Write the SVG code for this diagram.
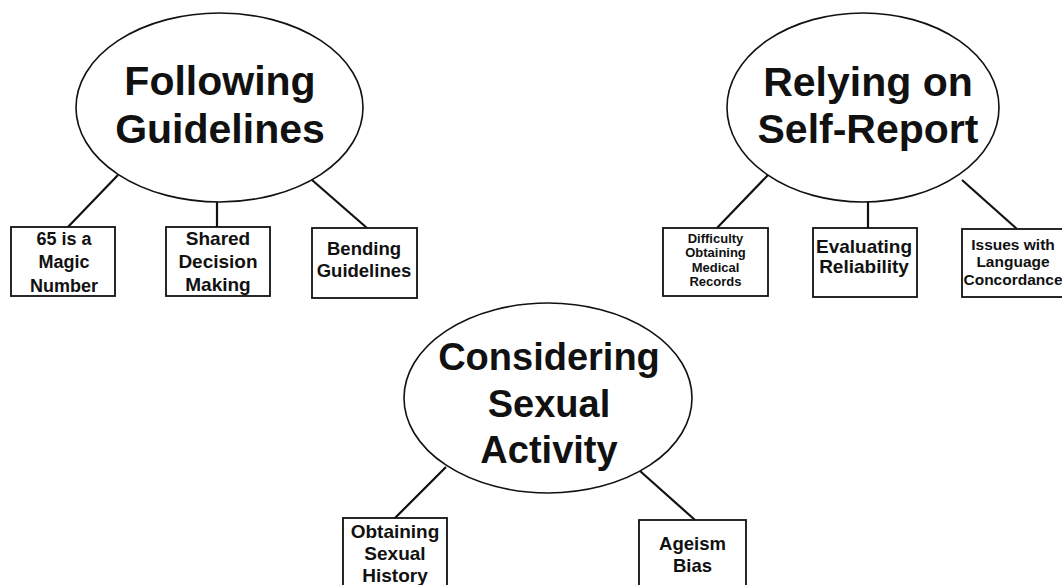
<svg xmlns="http://www.w3.org/2000/svg" width="1062" height="585" viewBox="0 0 1062 585">
<style>
.ell{fill:#fff;stroke:#111;stroke-width:1.6}
.box{fill:#fff;stroke:#111;stroke-width:1.8}
.con line{stroke:#111;stroke-width:2.2}
text{font-family:"Liberation Sans",Arial,sans-serif;font-weight:bold;fill:#111;text-anchor:middle}
.big{font-size:41px}
.mid{font-size:38px}
</style>
<rect width="1062" height="585" fill="#fff"/>
<g id="connectors" class="con">
<line x1="118" y1="175" x2="67" y2="228"/>
<line x1="217" y1="202" x2="217" y2="227"/>
<line x1="312" y1="180" x2="367" y2="228"/>
<line x1="768" y1="175" x2="717" y2="228"/>
<line x1="868" y1="202" x2="868" y2="228"/>
<line x1="962" y1="180" x2="1017" y2="229"/>
<line x1="446" y1="467" x2="395" y2="518"/>
<line x1="640" y1="471" x2="695" y2="520"/>
</g>
<g id="following-guidelines">
<ellipse class="ell" cx="219.5" cy="107.5" rx="143.5" ry="94.5"/>
<text class="big" x="220" y="95">Following</text>
<text class="big" x="220" y="143">Guidelines</text>
</g>
<g id="relying-self-report">
<ellipse class="ell" cx="863" cy="107.5" rx="136" ry="94.5"/>
<text class="big" x="868" y="96">Relying on</text>
<text class="big" x="868" y="143">Self-Report</text>
</g>
<g id="considering-sexual-activity">
<ellipse class="ell" cx="548" cy="398" rx="144" ry="95"/>
<text class="mid" x="549" y="370">Considering</text>
<text class="mid" x="549" y="417">Sexual</text>
<text class="mid" x="549" y="463">Activity</text>
</g>
<g id="magic-number">
<rect class="box" x="11" y="227" width="104" height="69"/>
<text x="64" y="245" font-size="18">65 is a</text>
<text x="64" y="268" font-size="18">Magic</text>
<text x="64" y="292" font-size="18">Number</text>
</g>
<g id="shared-decision">
<rect class="box" x="166" y="227" width="104" height="69"/>
<text x="218" y="245" font-size="19">Shared</text>
<text x="218" y="268" font-size="19">Decision</text>
<text x="218" y="291" font-size="19">Making</text>
</g>
<g id="bending-guidelines">
<rect class="box" x="312" y="228" width="105" height="70"/>
<text x="364" y="255" font-size="18.5">Bending</text>
<text x="364" y="277" font-size="18.5">Guidelines</text>
</g>
<g id="difficulty-records">
<rect class="box" x="663" y="228" width="105" height="68"/>
<text x="715.5" y="243" font-size="13">Difficulty</text>
<text x="715.5" y="257" font-size="13">Obtaining</text>
<text x="715.5" y="272" font-size="13">Medical</text>
<text x="715.5" y="286" font-size="13">Records</text>
</g>
<g id="evaluating-reliability">
<rect class="box" x="813" y="228" width="104" height="69"/>
<text x="864" y="253" font-size="19">Evaluating</text>
<text x="864" y="273" font-size="19">Reliability</text>
</g>
<g id="language-concordance">
<rect class="box" x="962" y="229" width="104" height="68"/>
<text x="1013" y="250" font-size="15.5">Issues with</text>
<text x="1013" y="267" font-size="15.5">Language</text>
<text x="1013" y="285" font-size="15.5">Concordance</text>
</g>
<g id="obtaining-history">
<rect class="box" x="343" y="518" width="104" height="80"/>
<text x="395" y="538" font-size="19">Obtaining</text>
<text x="395" y="560" font-size="19">Sexual</text>
<text x="395" y="582" font-size="19">History</text>
</g>
<g id="ageism-bias">
<rect class="box" x="639" y="520" width="107" height="80"/>
<text x="692.5" y="550" font-size="18.5">Ageism</text>
<text x="692.5" y="572" font-size="18.5">Bias</text>
</g>
</svg>
